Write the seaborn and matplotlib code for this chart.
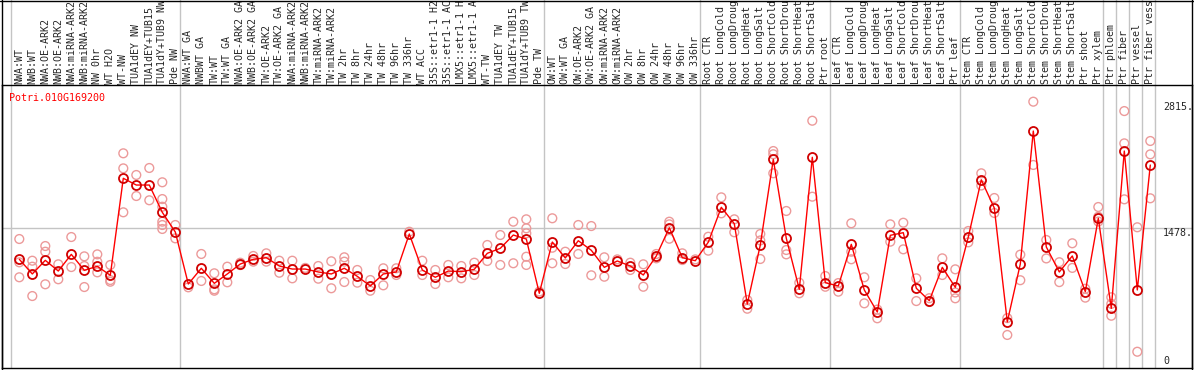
import matplotlib
matplotlib.use("Agg")
import matplotlib.pyplot as plt
import seaborn as sns
import pandas as pd
from matplotlib.lines import Line2D

gene = "Potri.010G169200"
y_top_label = 2815
y_mid_label = 1478

labels = [
    "NWA:WT", "NWB:WT", "NWA:OE-ARK2", "NWB:OE-ARK2", "NWA:miRNA-ARK2",
    "NWB:miRNA-ARK2", "NW 0hr", "WT H2O", "WT-NW", "TUA1dEY NW",
    "TUA1dEY+TUB15", "TUA1dY+TUB9 NW", "Pde NW",
    "NWA:WT GA", "NWBWT GA", "TW:WT", "TW:WT GA", "NWA:OE-ARK2 GA",
    "NWB:OE-ARK2 GA", "TW:OE-ARK2", "TW:OE-ARK2 GA", "NWA:miRNA-ARK2",
    "NWB:miRNA-ARK2", "TW:miRNA-ARK2", "TW:miRNA-ARK2", "TW 2hr", "TW 8hr",
    "TW 24hr", "TW 48hr", "TW 96hr", "TW 336hr", "WT ACC", "35S::etr1-1 H2",
    "35S::etr1-1 AC", "LMX5::etr1-1 H", "LMX5::etr1-1 A", "WT-TW",
    "TUA1dEY TW", "TUA1dEY+TUB15", "TUA1dY+TUB9 TW", "Pde TW",
    "OW:WT", "OW:WT GA", "OW:OE-ARK2", "OW:OE-ARK2 GA", "OW:miRNA-ARK2",
    "OW:miRNA-ARK2", "OW 2hr", "OW 8hr", "OW 24hr", "OW 48hr", "OW 96hr",
    "OW 336hr",
    "Root CTR", "Root LongCold", "Root LongDroug", "Root LongHeat",
    "Root LongSalt", "Root ShortCold", "Root ShortDrou", "Root ShortHeat",
    "Root ShortSalt", "Ptr root",
    "Leaf CTR", "Leaf LongCold", "Leaf LongDroug", "Leaf LongHeat",
    "Leaf LongSalt", "Leaf ShortCold", "Leaf ShortDrou", "Leaf ShortHeat",
    "Leaf ShortSalt", "Ptr leaf",
    "Stem CTR", "Stem LongCold", "Stem LongDroug", "Stem LongHeat",
    "Stem LongSalt", "Stem ShortCold", "Stem ShortDrou", "Stem ShortHeat",
    "Stem ShortSalt", "Ptr shoot",
    "Ptr xylem", "Ptr phloem", "Ptr fiber", "Ptr vessel", "Ptr fiber vess",
]

means = [
    1151, 996, 1140, 1027, 1203, 1035, 1077, 982, 2006, 1935,
    1935, 1647, 1439, 890, 1056, 897, 996, 1101, 1151, 1168,
    1080, 1048, 1048, 1017, 996, 1056, 971, 869, 996, 1017,
    1418, 1038, 961, 1027, 1020, 1045, 1214, 1267, 1407, 1365,
    792, 1333, 1165, 1347, 1246, 1066, 1133, 1080, 985, 1186,
    1484, 1168, 1136, 1332, 1700, 1527, 678, 1302, 2206, 1372,
    834, 2228, 904, 869, 1309, 827, 594, 1404, 1432, 845,
    714, 1066, 855, 1386, 1990, 1692, 490, 1101, 2505, 1281,
    1017, 1186, 809, 1584, 633, 2294, 827, 2146,
]

reps = [
    [1365, 1119, 961], [1136, 1073, 763], [1291, 1231, 887], [1098, 940],
    [1386, 1069], [1182, 1080, 858], [1203, 1125, 1013], [1091, 932, 914],
    [2270, 2111, 1647], [2041, 1819], [2115, 1774],
    [1964, 1787, 1706, 1548, 1513, 1471], [1513, 1372],
    [855], [1207, 922], [1003, 834, 819], [1073, 908], [1115, 1090],
    [1186, 1126], [1214, 1126], [1136, 1009], [1136, 950], [1060],
    [1080, 946], [1130, 845], [1172, 1126, 911], [1038, 904], [932, 819],
    [1056, 876], [1056, 985], [1442], [1136, 985], [1038, 890], [1091, 961],
    [1080, 950], [1115, 985], [1302, 1133], [1407, 1091], [1548, 1109],
    [1573, 1478, 1425, 1178, 1091], [810],
    [1584, 1273, 1109], [1231, 1101], [1513, 1207], [1502, 982], [1172, 967],
    [1150], [1115, 1038], [1098, 861], [1207, 1161], [1548, 1520, 1368],
    [1214, 1143], [1150],
    [1389, 1242], [1805, 1636], [1573, 1436], [721, 629], [1418, 1350, 1154],
    [2294, 2260, 2059], [1661, 1249, 1203], [904, 792], [2614, 1812],
    [974, 861],
    [900, 809], [1531, 1231, 1151], [961, 686], [620, 528], [1520, 1337],
    [1537, 1256], [950, 710], [740, 700], [1161, 985], [1045, 800, 739],
    [1450, 1330], [2059, 1930], [1798, 1640], [530, 352], [1200, 930],
    [2815, 2147], [1355, 1160], [1120, 910], [1320, 1060], [840, 746],
    [1703, 1600, 1550], [750, 680, 555], [2716, 2375, 1784], [1489, 175],
    [2400, 2259, 1795],
]

# first index of each block, last entry closes the final block
group_starts = [0, 13, 41, 53, 63, 73, 84, 85, 86, 87, 88]

df_mean = pd.DataFrame({"x": range(len(means)), "value": means})
df_reps = pd.DataFrame(
    [(i, v) for i, vals in enumerate(reps) for v in vals], columns=["x", "value"]
)

sns.set_style("white")
plt.rcParams["font.family"] = ["DejaVu Sans Mono"]

W, H = 1194, 370
top_px, bot_px, left_px, right_px = 85.3, 368.3, 2, 1192
x0_px, step = 19.3, 13.0

fig = plt.figure(figsize=(W / 100, H / 100), dpi=100)
ax = fig.add_axes([left_px / W, (H - bot_px) / H,
                   (right_px - left_px) / W, (bot_px - top_px) / H])

grey = "#c4c4c4"
ax.axhline(y_mid_label, color=grey, lw=1, zorder=0)
seps = [g - 8 / step for g in group_starts]
ax.vlines(seps, 0, 1 + top_px / (bot_px - top_px) + 0.01,
          transform=ax.get_xaxis_transform(), colors=grey, lw=1,
          clip_on=False, zorder=0)

sns.scatterplot(data=df_reps, x="x", y="value", ax=ax, marker="o", s=40,
                facecolor="none", edgecolor="#ec9a9a", linewidth=1.0,
                zorder=2)
sns.lineplot(data=df_mean, x="x", y="value", ax=ax, color="red", lw=1.0,
             marker="o", markersize=6.5, markerfacecolor="none",
             markeredgecolor="#d00000", markeredgewidth=1.3, zorder=3)

ax.set_xlim((left_px - x0_px) / step, (right_px - x0_px) / step)
ax.set_ylim(0, 2988)
ax.set_xticks([])
ax.set_yticks([])
ax.set_xlabel("")
ax.set_ylabel("")
for s in ax.spines.values():
    s.set_visible(True)
    s.set_color("black")
    s.set_linewidth(1)

fs = 7.2
lab_y = 1 + 1.8 / (bot_px - top_px)
for i, lab in enumerate(labels):
    ax.text(i, lab_y, lab[:14], rotation=90, ha="center", va="bottom",
            fontsize=fs, transform=ax.get_xaxis_transform(), clip_on=False)

ax.text((9.3 - left_px) / (right_px - left_px), 1 - 8 / (bot_px - top_px),
        gene, color="red", fontsize=fs, ha="left", va="top",
        transform=ax.transAxes)

tx = (1163 - left_px) / (right_px - left_px)
trans = ax.get_yaxis_transform()
ax.text(tx, y_top_label, f"{y_top_label}.", fontsize=fs, ha="left", va="top",
        transform=trans)
ax.text(tx, y_mid_label, f"{y_mid_label}.", fontsize=fs, ha="left", va="top",
        transform=trans)
ax.text(tx, 25, "0", fontsize=fs, ha="left", va="bottom", transform=trans)

# outer frame around the label strip
for xs, ys in [([0, 1], [1 - 0.5 / H] * 2),
               ([left_px / W] * 2, [0, 1]),
               ([right_px / W] * 2, [0, 1])]:
    fig.add_artist(Line2D(xs, ys, color="black", lw=1))

fig.savefig("out.png", dpi=100)
plt.close(fig)
